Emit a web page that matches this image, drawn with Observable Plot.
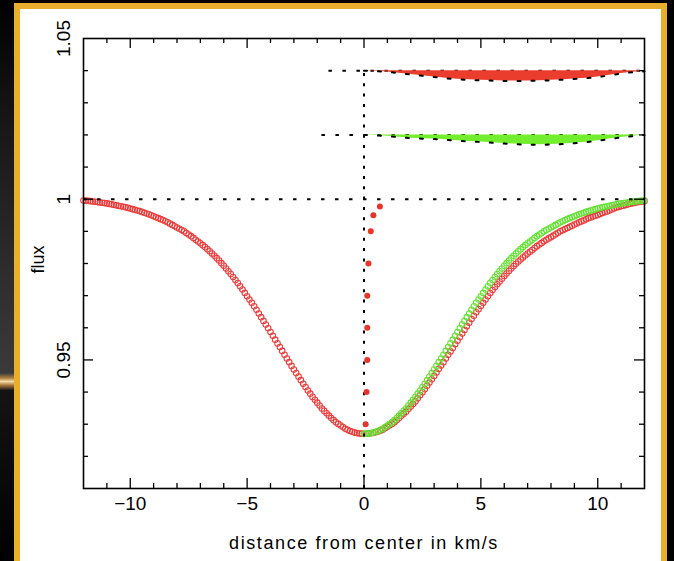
<!DOCTYPE html>
<html>
<head>
<meta charset="utf-8">
<script src="https://cdn.jsdelivr.net/npm/d3@7"></script>
<script src="https://cdn.jsdelivr.net/npm/@observablehq/plot@0.6"></script>
<style>
html,body{margin:0;padding:0;background:#000;overflow:hidden;}
#page{position:relative;width:674px;height:561px;overflow:hidden;background:#000;}
#glow{position:absolute;left:0;top:0;width:15px;height:561px;
  background:linear-gradient(to bottom,#000 0%,#151515 20%,#2e2e2e 50%,#3a3a3a 66.5%,#b08040 67.4%,#f3dca8 68%,#b08040 68.6%,#141414 69.6%,#000 100%);}
#panel{position:absolute;left:14px;top:3px;width:641px;height:600px;background:#fff;border:6px solid #e8ae2c;}
#chart{position:absolute;left:0;top:0;}
</style>
</head>
<body>
<div id="page">
  <div id="glow"></div>
  <div id="panel"></div>
  <div id="chart"></div>
</div>
<script>
// ---------- data ----------
const velocityStart = -12;          // km/s, first sample of the red profile
const velocityStep = 0.1;           // km/s between samples

// observed (red) profile, from -12 to +12 km/s
const redFlux = [
  0.9996,0.99955,0.9995,0.9994,0.9993,0.9992,0.9991,0.9990,0.9989,0.9988,
  0.9987,0.99855,0.9984,0.99825,0.9981,0.99795,0.9978,0.99765,0.9975,0.9973,
  0.9971,0.9969,0.9967,0.9965,0.9963,0.99605,0.9958,0.99555,0.9953,0.9950,
  0.9947,0.9944,0.9941,0.9938,0.9935,0.99315,0.9928,0.9924,0.9920,0.9916,
  0.9912,0.9908,0.9904,0.9900,0.9895,0.9890,0.9885,0.98795,0.9874,0.98685,
  0.9863,0.9857,0.9851,0.98445,0.9838,0.9831,0.9824,0.98165,0.9809,0.9801,
  0.9793,0.97845,0.9776,0.9767,0.9758,0.97485,0.9739,0.9729,0.9719,0.97085,
  0.9698,0.9688,0.9678,0.9667,0.9656,0.96445,0.9633,0.96215,0.9610,0.95985,
  0.9587,0.9575,0.9563,0.95515,0.9540,0.9528,0.9516,0.95045,0.9493,0.94815,
  0.9470,0.9459,0.9448,0.9437,0.9426,0.94155,0.9405,0.9395,0.9385,0.9376,
  0.9367,0.9358,0.9349,0.93415,0.9334,0.93265,0.9319,0.93125,0.9306,0.9301,
  0.9296,0.9291,0.9286,0.92825,0.9279,0.92765,0.9274,0.92725,0.9271,0.92705,
  0.9270,
  0.92703,0.9271,0.9272,0.9273,0.9275,0.9277,0.9280,0.9283,0.92875,0.9292,
  0.92965,0.9301,0.93065,0.9312,0.9319,0.9326,0.93325,0.9339,0.9347,0.9355,
  0.9363,0.9371,0.93805,0.9390,0.93995,0.9409,0.94195,0.9430,0.9440,0.9450,
  0.9461,0.9472,0.94825,0.9493,0.95045,0.9516,0.95265,0.9537,0.95485,0.9560,
  0.9571,0.9582,0.95935,0.9605,0.9616,0.9627,0.96375,0.9648,0.9658,0.9668,
  0.9678,0.9688,0.9698,0.9708,0.97175,0.9727,0.97355,0.9744,0.97525,0.9761,
  0.9769,0.9777,0.97845,0.9792,0.9799,0.9806,0.98125,0.9819,0.9825,0.9831,
  0.98365,0.9842,0.9848,0.9854,0.9859,0.9864,0.9869,0.9874,0.9878,0.9882,
  0.98865,0.9891,0.98955,0.9900,0.99035,0.9907,0.99105,0.9914,0.99175,0.9921,
  0.99245,0.9928,0.9931,0.9934,0.99375,0.9941,0.99435,0.9946,0.99485,0.9951,
  0.9954,0.9957,0.99595,0.9962,0.9965,0.9968,0.9971,0.9974,0.9976,0.9978,
  0.9980,0.9982,0.9984,0.9986,0.99875,0.9989,0.99905,0.9992,0.9993,0.9994
];

// mirrored blue-side (green) profile, from 0 to +12 km/s
const greenStart = 0;
const greenFlux = [
  0.9270,
  0.92705,0.9271,0.92725,0.9274,0.92765,0.9279,0.92825,0.9286,0.9291,0.9296,
  0.9301,0.9306,0.93125,0.9319,0.93265,0.9334,0.93415,0.9349,0.9358,0.9367,
  0.9376,0.9385,0.9395,0.9405,0.94155,0.9426,0.9437,0.9448,0.9459,0.9470,
  0.94815,0.9493,0.95045,0.9516,0.9528,0.9540,0.95515,0.9563,0.9575,0.9587,
  0.95985,0.9610,0.96215,0.9633,0.96445,0.9656,0.9667,0.9678,0.9688,0.9698,
  0.97085,0.9719,0.9729,0.9739,0.97485,0.9758,0.9767,0.9776,0.97845,0.9793,
  0.9801,0.9809,0.98165,0.9824,0.9831,0.9838,0.98445,0.9851,0.9857,0.9863,
  0.98685,0.9874,0.98795,0.9885,0.9890,0.9895,0.9900,0.9904,0.9908,0.9912,
  0.9916,0.9920,0.9924,0.9928,0.99315,0.9935,0.9938,0.9941,0.9944,0.9947,
  0.9950,0.9953,0.99555,0.9958,0.99605,0.9963,0.9965,0.9967,0.9969,0.9971,
  0.9973,0.9975,0.99765,0.9978,0.99795,0.9981,0.99825,0.9984,0.99855,0.9987,
  0.9988,0.9989,0.9990,0.9991,0.9992,0.9993,0.9994,0.9995,0.99955,0.9996
];

// line bisector (filled red dots)
const bisectorVelocity = [0.07, 0.11, 0.14, 0.14, 0.14, 0.19, 0.29, 0.40, 0.68];
const bisectorFlux     = [0.930, 0.940, 0.950, 0.960, 0.970, 0.980, 0.990, 0.995, 0.9977];

// difference bands drawn above the continuum
const bandVelocity    = [0,1,2,3,4,5,6,7,8,9,10,11,12];
const redBandDepth    = [0,0.0004,0.0012,0.0020,0.0027,0.0030,0.0032,0.0032,0.0030,0.0026,0.0020,0.0009,0.0002];
const greenBandDepth  = [0,0.0004,0.0010,0.0013,0.0018,0.0022,0.0027,0.0030,0.0030,0.0026,0.0018,0.0008,0.0000];
const redBandLevel    = 1.04;
const greenBandLevel  = 1.02;

// dotted reference lines
const refLevels = [1.00, 1.04, 1.02];
const refFrom   = [-12, -1.5, -1.8];
const refTo     = [12, 12, 12];
const centerVelocity = 0;
const centerFrom = 0.91, centerTo = 1.04;

// axes
const xDomain = [-12, 12];
const yDomain = [0.91, 1.05];
const xTickValues = [-10, -5, 0, 5, 10];
const xTickLabels = ["−10", "−5", "0", "5", "10"];
const yTickValues = [0.95, 1.00, 1.05];
const yTickLabels = ["0.95", "1", "1.05"];
const xMinorTicks = [-11,-9,-8,-7,-6,-4,-3,-2,-1,1,2,3,4,6,7,8,9,11];
const xMajorTicks = [-10, -5, 0, 5, 10];
const yMinorTicks = [0.92,0.93,0.94,0.96,0.97,0.98,0.99,1.01,1.02,1.03,1.04];
const yMajorTicks = [0.95, 1.00];
const xTitle = "distance from center in km/s";
const yTitle = "flux";

// ---------- tables ----------
const redRows = redFlux.map((f, i) => ({x: velocityStart + i * velocityStep, flux: f}));
const greenRows = greenFlux.map((f, i) => ({x: greenStart + i * velocityStep, flux: f}));
const bisRows = bisectorFlux.map((f, i) => ({x: bisectorVelocity[i], flux: f}));
const redBand = bandVelocity.map((v, i) => ({x: v, top: redBandLevel, low: redBandLevel - redBandDepth[i]}));
const greenBand = bandVelocity.map((v, i) => ({x: v, top: greenBandLevel, low: greenBandLevel - greenBandDepth[i]}));
const refRows = refLevels.map((l, i) => ({y: l, x1: refFrom[i], x2: refTo[i]}));

// ---------- layout ----------
const W = 674, H = 561, mL = 83, mR = 30, mT = 38, mB = 73;
const innerW = W - mL - mR, innerH = H - mT - mB;
const font = "'Liberation Sans', Arial, Helvetica, sans-serif";
const redC = "#ec3a3a", greenC = "#62e232";
const dotted = {stroke: "black", strokeWidth: 2, strokeDasharray: "3.5,10.5"};
const tickStyle = {stroke: "black", strokeWidth: 1.3};

const chart = Plot.plot({
  width: W, height: H,
  marginLeft: mL, marginRight: mR, marginTop: mT, marginBottom: mB,
  style: {background: "transparent", fontFamily: font, fontSize: "18px", color: "black"},
  x: {domain: xDomain, axis: null},
  y: {domain: yDomain, axis: null},
  marks: [
    Plot.dot(redRows, {x: "x", y: "flux", r: 2.8, stroke: redC, strokeWidth: 1.05, fill: "none"}),
    Plot.dot(greenRows, {x: "x", y: "flux", r: 2.8, stroke: greenC, strokeWidth: 1.05, fill: "none"}),
    Plot.ruleY(refRows, {y: "y", x1: "x1", x2: "x2", ...dotted}),
    Plot.ruleX([{x: centerVelocity, y1: centerFrom, y2: centerTo}], {x: "x", y1: "y1", y2: "y2", stroke: "black", strokeWidth: 2, strokeDasharray: "3,7.3"}),
    Plot.areaY(redBand, {x: "x", y1: "top", y2: "low", fill: "#ea3d2e", curve: "natural"}),
    Plot.areaY(greenBand, {x: "x", y1: "top", y2: "low", fill: "#72ee2e", curve: "natural"}),
    Plot.line(redBand, {x: "x", y: "low", curve: "natural", stroke: "black", strokeWidth: 2, strokeDasharray: "3,11"}),
    Plot.line(greenBand, {x: "x", y: "low", curve: "natural", stroke: "black", strokeWidth: 2, strokeDasharray: "3,11"}),
    Plot.dot(bisRows, {x: "x", y: "flux", r: 3, fill: "#e8352a"}),
    // inward ticks on all four sides
    Plot.ruleX(xMinorTicks, {x: d => d, insetTop: innerH - 5, ...tickStyle}),
    Plot.ruleX(xMajorTicks, {x: d => d, insetTop: innerH - 10, ...tickStyle}),
    Plot.ruleX(xMinorTicks, {x: d => d, insetBottom: innerH - 5, ...tickStyle}),
    Plot.ruleX(xMajorTicks, {x: d => d, insetBottom: innerH - 10, ...tickStyle}),
    Plot.ruleY(yMinorTicks, {y: d => d, insetRight: innerW - 5, ...tickStyle}),
    Plot.ruleY(yMajorTicks, {y: d => d, insetRight: innerW - 10, ...tickStyle}),
    Plot.ruleY(yMinorTicks, {y: d => d, insetLeft: innerW - 5, ...tickStyle}),
    Plot.ruleY(yMajorTicks, {y: d => d, insetLeft: innerW - 10, ...tickStyle}),
    Plot.frame({stroke: "black", strokeWidth: 1.6}),
    // tick labels
    Plot.axisX({ticks: xTickValues, tickSize: 0, tickPadding: 8, label: null,
      tickFormat: d => xTickLabels[xTickValues.indexOf(d)], fontSize: 19, fill: "black"}),
    Plot.axisY({ticks: yTickValues, tickSize: 0, tickPadding: 20, label: null, rotate: -90, textAnchor: "middle",
      tickFormat: d => yTickLabels[yTickValues.findIndex(v => Math.abs(v - d) < 1e-9)], fontSize: 19, fill: "black"}),
    // titles
    Plot.text([xTitle], {text: d => d, frameAnchor: "bottom", dy: 55, lineAnchor: "middle", fontSize: 18, fill: "black"}),
    Plot.text([yTitle], {text: d => d, frameAnchor: "left", dx: -45, dy: 10, rotate: -90, lineAnchor: "middle", fontSize: 18, fill: "black"})
  ]
});
d3.select(chart).selectAll("text")
  .filter(function() { return this.textContent === xTitle; })
  .attr("letter-spacing", "1.6px");
document.getElementById("chart").appendChild(chart);
</script>
</body>
</html>
